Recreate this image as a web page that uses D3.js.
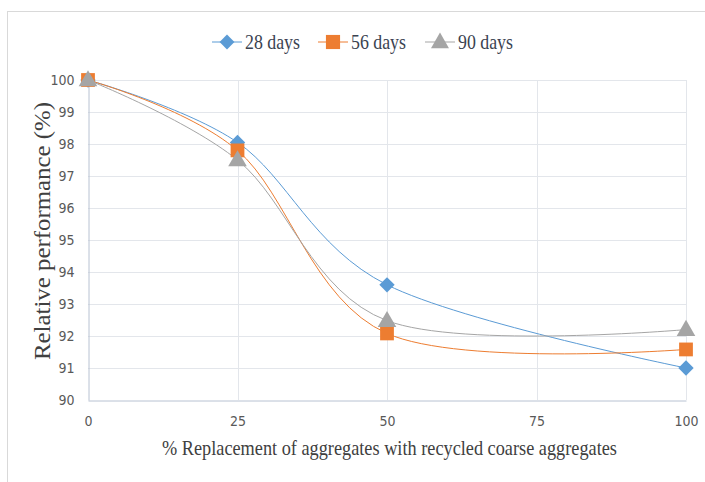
<!DOCTYPE html>
<html>
<head>
<meta charset="utf-8">
<script src="https://cdn.jsdelivr.net/npm/d3@7"></script>
<style>
  html, body { margin: 0; padding: 0; background: #fff; }
  svg { display: block; }
</style>
</head>
<body>
<svg id="chart" width="705" height="482"></svg>
<script>
// Replacement levels (%) and relative performance for each curing age
const replacement = [0, 25, 50, 100];
const days28 = [100, 98.05, 93.6, 91.0];
const days56 = [100, 97.8, 92.08, 91.58];
const days90 = [100, 97.5, 92.48, 92.2];
const seriesNames = ["28 days", "56 days", "90 days"];
const xTicks = [0, 25, 50, 75, 100];
const yTicks = [90, 91, 92, 93, 94, 95, 96, 97, 98, 99, 100];

const colors = ["#5B9BD5", "#ED7D31", "#A5A5A5"];
const shapes = [d3.symbolDiamond2, d3.symbolSquare, d3.symbolTriangle];

const svg = d3.select("#chart");

// condensed serif text: draw at (x0, y0), then squeeze horizontally to the given width
function condensedText(parent, x0, y0, width, size, fill, str, rotate) {
  const g = parent.append("g")
    .attr("transform", `translate(${x0},${y0})` + (rotate ? " rotate(-90)" : ""));
  const t = g.append("text")
    .style("font-family", "'Liberation Serif', 'DejaVu Serif', serif")
    .style("font-size", size + "px")
    .attr("fill", fill)
    .text(str);
  const natural = t.node().getComputedTextLength();
  t.attr("transform", `scale(${width / natural},1)`);
  return t;
}

// chart frame
svg.append("rect")
  .attr("x", 7.5).attr("y", 11.5)
  .attr("width", 720).attr("height", 500)
  .attr("fill", "#fff").attr("stroke", "#D9D9D9");

const plotLeft = 88, plotRight = 686, plotTop = 80, plotBottom = 400;
const x = d3.scaleLinear().domain([0, 100]).range([plotLeft, plotRight]);
const y = d3.scaleLinear().domain([90, 100]).range([plotBottom, plotTop]);

const tickFont = "'Liberation Sans Narrow', 'DejaVu Sans Condensed', sans-serif";

// grid
const grid = svg.append("g");
grid.selectAll("line.h").data(yTicks.filter(v => v > 90)).join("line")
  .attr("x1", plotLeft).attr("x2", plotRight)
  .attr("y1", d => Math.round(y(d)) + 0.5).attr("y2", d => Math.round(y(d)) + 0.5)
  .attr("stroke", "#E3E6EB");
grid.selectAll("line.v").data(xTicks.filter(v => v > 0)).join("line")
  .attr("y1", plotTop).attr("y2", plotBottom)
  .attr("x1", d => Math.round(x(d)) + 0.5).attr("x2", d => Math.round(x(d)) + 0.5)
  .attr("stroke", "#E3E6EB");

// axes
const xAxis = svg.append("g")
  .attr("transform", `translate(0,${plotBottom + 0.5})`)
  .call(d3.axisBottom(x).tickValues(xTicks).tickSize(0).tickPadding(16));
const yAxis = svg.append("g")
  .attr("transform", `translate(${plotLeft + 0.5},0)`)
  .call(d3.axisLeft(y).tickValues(yTicks).tickSize(0).tickPadding(14));
[xAxis, yAxis].forEach(a => {
  a.select(".domain").attr("stroke", "#B8C2D2");
  a.selectAll("text").attr("fill", "#595959")
    .style("font-family", tickFont).style("font-size", "14px");
});

// smoothed series lines and markers
const series = [days28, days56, days90];
const line = d3.line()
  .x((d, i) => x(replacement[i]))
  .y(d => y(d))
  .curve(d3.curveCardinal.tension(0));

series.forEach((vals, k) => {
  svg.append("path")
    .datum(vals)
    .attr("d", line)
    .attr("fill", "none")
    .attr("stroke", colors[k])
    .attr("stroke-width", 1);
});
series.forEach((vals, k) => {
  const size = k === 2 ? 150 : (k === 1 ? 190 : 150);
  svg.append("g").selectAll("path").data(vals).join("path")
    .attr("d", d3.symbol(shapes[k], size))
    .attr("transform", (d, i) => `translate(${x(replacement[i])},${y(d) + (k === 2 ? 1 : 0)})`)
    .attr("fill", colors[k]);
});

// legend
const legendX = [212, 318, 425];
const legend = svg.append("g");
seriesNames.forEach((name, k) => {
  const g = legend.append("g").attr("transform", `translate(${legendX[k]},42)`);
  g.append("line").attr("x1", 0).attr("x2", 30).attr("y1", 0).attr("y2", 0)
    .attr("stroke", colors[k]).attr("stroke-width", 1);
  g.append("path").attr("d", d3.symbol(shapes[k], k === 1 ? 200 : 140))
    .attr("transform", `translate(15,${k === 2 ? 1 : 0})`)
    .attr("fill", colors[k]);
  condensedText(g, 33, 7, 55, 22, "#3a4250", name, false);
});

// axis titles
condensedText(svg, 162, 455, 455, 22, "#404040",
  "% Replacement of aggregates with recycled coarse aggregates", false);
condensedText(svg, 50, 360, 258, 23, "#404040",
  "Relative performance (%)", true);
</script>
</body>
</html>
